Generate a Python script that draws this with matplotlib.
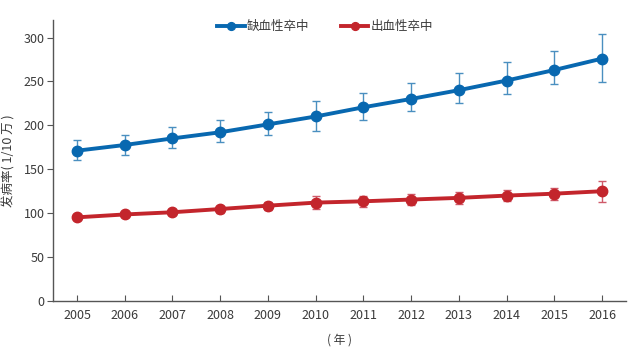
import matplotlib
matplotlib.use("Agg")
import matplotlib.pyplot as plt

years = [2005, 2006, 2007, 2008, 2009, 2010, 2011, 2012, 2013, 2014, 2015, 2016]
ischemic = [171, 177.5, 185, 192, 201, 210, 220.5, 230, 240, 251, 263, 276]
ischemic_upper = [183, 189, 198, 206, 215, 228, 237, 248, 260, 272, 285, 304]
ischemic_lower = [160, 166, 174, 181, 189, 193, 206, 216, 225, 236, 247, 249]
hemorrhagic = [95, 98.3, 100.8, 104.5, 108.3, 111.8, 113.3, 115.3, 117.2, 119.8, 122, 124.8]
hemorrhagic_err = [3, 3, 3.5, 4, 4.5, 7, 6, 6, 6.5, 6, 7, 12]
labels = ["缺血性卒中", "出血性卒中"]
yticks = [0, 50, 100, 150, 200, 250, 300]

plt.rcParams['font.family'] = ['Noto Sans CJK SC', 'DejaVu Sans']
blue = '#0868b0'
red = '#c3252c'
txt = '#3a3a3a'

fig = plt.figure(figsize=(6.4, 3.64), dpi=100)
ax = fig.add_axes([0.083, 0.174, 0.895, 0.771])

yerr_b = [[m - l for m, l in zip(ischemic, ischemic_lower)],
          [u - m for m, u in zip(ischemic, ischemic_upper)]]
ax.errorbar(years, ischemic, yerr=yerr_b, fmt='none', ecolor='#4a8fc0',
            elinewidth=1.0, capsize=3, capthick=1.0, zorder=2)
ax.plot(years, ischemic, color=blue, lw=2.8, marker='o', ms=7.5,
        label=labels[0], zorder=3)
ax.errorbar(years, hemorrhagic, yerr=hemorrhagic_err, fmt='none', ecolor='#cf5a6a',
            elinewidth=1.0, capsize=3, capthick=1.0, zorder=2)
ax.plot(years, hemorrhagic, color=red, lw=2.8, marker='o', ms=7.5,
        label=labels[1], zorder=3)

ax.set_xlim(2004.5, 2016.5)
ax.set_ylim(0, 320)
ax.set_xticks(years)
ax.set_xticklabels([str(y) for y in years])
ax.set_yticks(yticks)
for s in ['top', 'right']:
    ax.spines[s].set_visible(False)
for s in ['left', 'bottom']:
    ax.spines[s].set_color('#555555')
    ax.spines[s].set_linewidth(1.0)
ax.tick_params(axis='x', direction='in', length=4, color='#555555',
               labelsize=9, labelcolor=txt, pad=6)
ax.tick_params(axis='y', direction='out', length=4, color='#555555',
               labelsize=9, labelcolor=txt, pad=2)

ax.set_ylabel('发病率( 1/10 万 )', fontsize=9, color=txt, labelpad=6)
ax.set_xlabel('( 年 )', fontsize=8.5, color=txt, labelpad=8)

leg = ax.legend(loc='upper center', bbox_to_anchor=(0.475, 1.04), ncol=2,
                frameon=False, fontsize=9, handlelength=2.2, columnspacing=2.5,
                handletextpad=0.2, markerscale=0.75)
for t in leg.get_texts():
    t.set_color(txt)

fig.savefig('out.png', dpi=100)
